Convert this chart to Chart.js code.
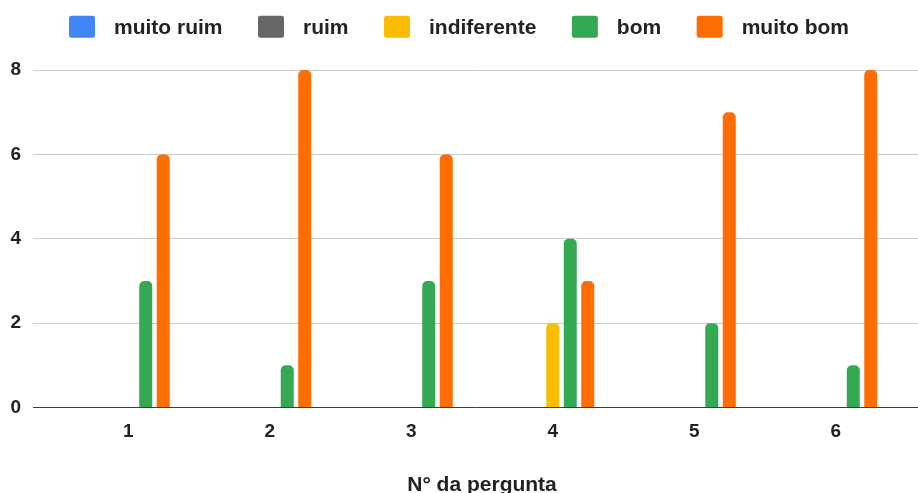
<!DOCTYPE html>
<html lang="pt">
<head>
<meta charset="utf-8">
<title>Avaliação por pergunta</title>
<script src="https://cdn.jsdelivr.net/npm/chart.js@4.4.1/dist/chart.umd.min.js"></script>
<style>
  html, body { margin: 0; padding: 0; background: #ffffff; }
  #wrap { width: 918px; height: 493px; position: relative; }
</style>
</head>
<body>
<div id="wrap"><canvas id="chart" width="918" height="493"></canvas></div>
<script>
// Question numbers (x axis)
const categories = [1, 2, 3, 4, 5, 6];

// Number of answers per rating
const muitoRuim   = [0, 0, 0, 0, 0, 0];
const ruim        = [0, 0, 0, 0, 0, 0];
const indiferente = [0, 0, 0, 2, 0, 0];
const bom         = [3, 1, 3, 4, 2, 1];
const muitoBom    = [6, 8, 6, 3, 7, 8];

// Y axis tick values
const yTicks = [0, 2, 4, 6, 8];

// Axis title
const xTitle = 'N° da pergunta';

const seriesNames  = ['muito ruim', 'ruim', 'indiferente', 'bom', 'muito bom'];
const seriesValues = [muitoRuim, ruim, indiferente, bom, muitoBom];
const seriesColors = ['#4285F4', '#666666', '#FBBC04', '#34A853', '#FF6D01'];

const FONT = '"Liberation Sans", Arial, Helvetica, sans-serif';
const TEXT = '#222222';

// Legend across the top (rounded swatch + label, centered row) and the x axis title
const chartDecor = {
  id: 'chartDecor',
  afterDraw(chart) {
    const ctx = chart.ctx;
    ctx.save();
    ctx.font = 'bold 21px ' + FONT;
    const boxW = 26, boxH = 22, gapText = 19, gapItem = 35.5;
    const items = chart.data.datasets.map(ds => ({
      label: ds.label,
      color: ds.backgroundColor,
      w: ctx.measureText(ds.label).width
    }));
    const total = items.reduce((s, it) => s + boxW + gapText + it.w, 0) + gapItem * (items.length - 1);
    let x = (chart.width - total) / 2;
    const boxTop = 15.7;
    const baseline = 33.5;
    items.forEach(it => {
      ctx.fillStyle = it.color;
      ctx.beginPath();
      ctx.roundRect(x, boxTop, boxW, boxH, 2.5);
      ctx.fill();
      ctx.fillStyle = TEXT;
      ctx.textAlign = 'left';
      ctx.textBaseline = 'alphabetic';
      ctx.fillText(it.label, x + boxW + gapText, baseline);
      x += boxW + gapText + it.w + gapItem;
    });

    // x axis title, centered under the bar groups
    const xs = chart.scales.x;
    const mid = (xs.getPixelForValue(categories[0]) + xs.getPixelForValue(categories[categories.length - 1])) / 2;
    ctx.textAlign = 'center';
    ctx.fillText(xTitle, mid, 490.5);
    ctx.restore();
  }
};

const datasets = seriesNames.map((name, s) => ({
  label: name,
  data: categories.map((c, i) => ({ x: c, y: seriesValues[s][i] })),
  backgroundColor: seriesColors[s],
  borderWidth: 0,
  borderRadius: 5,
  borderSkipped: 'bottom',
  categoryPercentage: 0.618,
  barPercentage: 0.743
}));

new Chart(document.getElementById('chart'), {
  type: 'bar',
  data: { datasets },
  plugins: [chartDecor],
  options: {
    responsive: false,
    animation: false,
    devicePixelRatio: 1,
    layout: { padding: { top: 70, right: 0, bottom: 0, left: 0 } },
    plugins: {
      legend: { display: false },
      tooltip: { enabled: false }
    },
    scales: {
      x: {
        type: 'linear',
        offset: false,
        min: 0.327,
        max: 6.581,
        afterFit(scale) { scale.height = 85.5; },
        afterBuildTicks(scale) { scale.ticks = categories.map(v => ({ value: v })); },
        grid: { display: false, drawTicks: false },
        border: { display: false },
        ticks: {
          padding: 13,
          color: TEXT,
          font: { family: FONT, size: 19, weight: 'bold' },
          callback: v => String(v)
        }
      },
      y: {
        min: 0,
        max: 8,
        afterFit(scale) { scale.width = 33; },
        afterBuildTicks(scale) { scale.ticks = yTicks.map(v => ({ value: v })); },
        grid: {
          drawTicks: false,
          color: c => (c.tick && c.tick.value === 0) ? '#3c3c3c' : '#cccccc',
          lineWidth: 1
        },
        border: { display: false },
        ticks: {
          padding: 12,
          color: TEXT,
          font: { family: FONT, size: 19, weight: 'bold' }
        }
      }
    }
  }
});
</script>
</body>
</html>
